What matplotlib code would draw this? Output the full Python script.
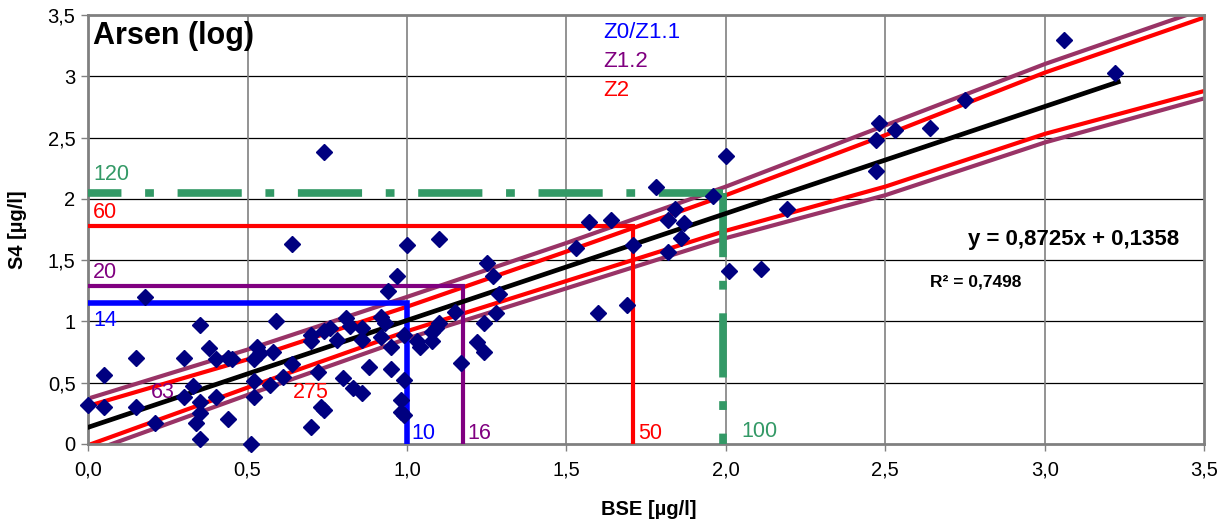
import matplotlib
matplotlib.use("Agg")
import matplotlib.pyplot as plt

plt.rcParams["font.family"] = ["Liberation Sans", "DejaVu Sans"]

# log values, BSE (x) vs S4 (y)
bse = [0.00, 0.05, 0.05, 0.15, 0.15, 0.18, 0.21, 0.30, 0.30, 0.33,
       0.35, 0.35, 0.35, 0.34, 0.35, 0.38, 0.40, 0.40, 0.44, 0.45,
       0.44, 0.51, 0.52, 0.52, 0.52, 0.53, 0.54, 0.57, 0.58, 0.59,
       0.61, 0.64, 0.64, 0.70, 0.70, 0.70, 0.72, 0.73, 0.74, 0.74,
       0.74, 0.76, 0.78, 0.80, 0.81, 0.82, 0.83, 0.86, 0.86, 0.86,
       0.88, 0.92, 0.93, 0.92, 0.94, 0.95, 0.95, 0.97, 0.99, 0.99,
       0.98, 0.98, 0.99, 1.00, 1.03, 1.04, 1.08, 1.08, 1.09, 1.10,
       1.10, 1.15, 1.17, 1.22, 1.24, 1.24, 1.25, 1.27, 1.28, 1.29,
       1.53, 1.57, 1.60, 1.64, 1.69, 1.71, 1.78, 1.82, 1.82, 1.84,
       1.86, 1.87, 1.96, 2.00, 2.01, 2.11, 2.19, 2.47, 2.47, 2.48,
       2.53, 2.64, 2.75, 3.06, 3.22]
s4 = [0.32, 0.30, 0.56, 0.30, 0.70, 1.20, 0.17, 0.70, 0.38, 0.47,
      0.97, 0.34, 0.25, 0.17, 0.04, 0.78, 0.69, 0.38, 0.70, 0.69,
      0.20, 0.00, 0.69, 0.51, 0.38, 0.79, 0.74, 0.48, 0.75, 1.00,
      0.55, 0.65, 1.63, 0.89, 0.84, 0.14, 0.59, 0.30, 0.28, 0.92,
      2.38, 0.95, 0.85, 0.54, 1.03, 0.96, 0.46, 0.95, 0.85, 0.42,
      0.63, 1.04, 0.99, 0.87, 1.25, 0.79, 0.61, 1.37, 0.89, 0.52,
      0.36, 0.26, 0.24, 1.62, 0.84, 0.79, 0.91, 0.84, 0.95, 0.99,
      1.67, 1.08, 0.66, 0.83, 0.75, 0.99, 1.48, 1.37, 1.07, 1.22,
      1.60, 1.81, 1.07, 1.83, 1.13, 1.62, 2.10, 1.57, 1.83, 1.92,
      1.68, 1.80, 2.02, 2.35, 1.41, 1.43, 1.92, 2.23, 2.48, 2.62,
      2.56, 2.58, 2.81, 3.30, 3.03]

# trend line from the chart
slope = 0.8725
intercept = 0.1358
trend_x = [0.0, 3.23]
eq_text = "y = 0,8725x + 0,1358"
r2_text = "R² = 0,7498"

# band lines, read at these x positions
band_x = [0.0, 0.5, 1.0, 1.5, 2.0, 2.5, 3.0, 3.5]
upper_outer = [0.37, 0.77, 1.20, 1.64, 2.10, 2.60, 3.10, 3.55]
upper_inner = [0.31, 0.69, 1.12, 1.57, 2.03, 2.52, 3.03, 3.48]
lower_inner = [-0.01, 0.46, 0.92, 1.33, 1.74, 2.10, 2.53, 2.88]
lower_outer = [-0.07, 0.40, 0.86, 1.27, 1.68, 2.03, 2.46, 2.82]

# limit values (log) with their labels
limit_x = [1.00, 1.175, 1.71, 1.99]
limit_y = [1.15, 1.29, 1.78, 2.05]
limit_xlab = ["10", "16", "50", "100"]
limit_ylab = ["14", "20", "60", "120"]
class_names = ["Z0/Z1.1", "Z1.2", "Z2"]

xticks = [0.0, 0.5, 1.0, 1.5, 2.0, 2.5, 3.0, 3.5]
xtick_labels = ["0,0", "0,5", "1,0", "1,5", "2,0", "2,5", "3,0", "3,5"]
yticks = [0.0, 0.5, 1.0, 1.5, 2.0, 2.5, 3.0, 3.5]
ytick_labels = ["0", "0,5", "1", "1,5", "2", "2,5", "3", "3,5"]

BLUE = "#0000FF"
PURPLE = "#800080"
RED = "#FF0000"
GREEN = "#339966"
MAUVE = "#993366"
NAVY = "#000080"

fig = plt.figure(figsize=(12.28, 5.24), dpi=100)
ax = fig.add_axes([0.0717, 0.1527, 0.909, 0.8187])

ax.set_xlim(0, 3.5)
ax.set_ylim(0, 3.5)
ax.set_xticks(xticks)
ax.set_xticklabels(xtick_labels, fontsize=14.5)
ax.set_yticks(yticks)
ax.set_yticklabels(ytick_labels, fontsize=14.5)
ax.tick_params(length=5, width=1, color="#808080", pad=4)
ax.tick_params(axis="x", pad=7)

for t in yticks[1:-1]:
    ax.axhline(t, color="black", lw=0.9, zorder=0.5)
for t in xticks[1:-1]:
    ax.axvline(t, color="#808080", lw=1.2, zorder=0.5)
for s in ax.spines.values():
    s.set_color("#808080")
    s.set_linewidth(2)

# bands
ax.plot(band_x, upper_outer, color=MAUVE, lw=3, zorder=2, solid_capstyle="butt")
ax.plot(band_x, lower_outer, color=MAUVE, lw=3, zorder=2, solid_capstyle="butt")
ax.plot(band_x, upper_inner, color=RED, lw=3, zorder=2.1, solid_capstyle="butt")
ax.plot(band_x, lower_inner, color=RED, lw=3, zorder=2.1, solid_capstyle="butt")

# limit lines
cols = [BLUE, PURPLE, RED]
widths = [4, 3, 3]
for i in range(3):
    ax.plot([0, limit_x[i], limit_x[i]], [limit_y[i], limit_y[i], 0],
            color=cols[i], lw=widths[i], zorder=3, solid_joinstyle="miter")
dash = (0, (8.4, 3.1, 1.15, 3.1))
ax.plot([limit_x[3], 0], [limit_y[3], limit_y[3]], color=GREEN, lw=5.5,
        linestyle=dash, dash_capstyle="butt", zorder=3)
ax.plot([limit_x[3], limit_x[3]], [limit_y[3], 0], color=GREEN, lw=5.5,
        linestyle=dash, dash_capstyle="butt", zorder=3)

# trend line
ax.plot(trend_x, [slope * x + intercept for x in trend_x], color="black",
        lw=3.4, zorder=4)

ax.plot(bse, s4, linestyle="none", marker="D", markersize=8.5,
        color=NAVY, zorder=5, clip_on=False)

# labels of the limit lines
ax.text(0.016, limit_y[3] + 0.06, limit_ylab[3], color=GREEN, fontsize=15.5, va="bottom")
ax.text(0.016, limit_y[2] + 0.02, limit_ylab[2], color=RED, fontsize=15.5, va="bottom")
ax.text(0.016, limit_y[1] + 0.02, limit_ylab[1], color=PURPLE, fontsize=15.5, va="bottom")
ax.text(0.016, limit_y[0] - 0.06, limit_ylab[0], color=BLUE, fontsize=15.5, va="top")
ax.text(limit_x[0] + 0.015, 0.0, limit_xlab[0], color=BLUE, fontsize=15.5, va="bottom")
ax.text(limit_x[1] + 0.015, 0.0, limit_xlab[1], color=PURPLE, fontsize=15.5, va="bottom")
ax.text(limit_x[2] + 0.015, 0.0, limit_xlab[2], color=RED, fontsize=15.5, va="bottom")
ax.text(limit_x[3] + 0.06, 0.02, limit_xlab[3], color=GREEN, fontsize=15.5, va="bottom")
ax.text(0.197, 0.42, "63", color=PURPLE, fontsize=15.5, va="center", zorder=4.5)
ax.text(0.643, 0.42, "275", color=RED, fontsize=15.5, va="center", zorder=4.5)

for name, c, yy in zip(class_names, cols, [3.36, 3.12, 2.88]):
    ax.text(1.614, yy, name, color=c, fontsize=16, va="center")

ax.text(0.016, 3.33, "Arsen (log)", fontsize=22, fontweight="bold", va="center")
ax.text(3.42, 1.67, eq_text, fontsize=16, fontweight="bold", ha="right", va="center")
ax.text(2.64, 1.32, r2_text, fontsize=12.5, fontweight="bold", va="center")

ax.set_xlabel("BSE [µg/l]", fontsize=14.5, fontweight="bold")
ax.set_ylabel("S4 [µg/l]", fontsize=14.5, fontweight="bold")
ax.xaxis.set_label_coords(0.502, -0.13)
ax.yaxis.set_label_coords(-0.055, 0.5)

fig.savefig("out.png", dpi=100)
